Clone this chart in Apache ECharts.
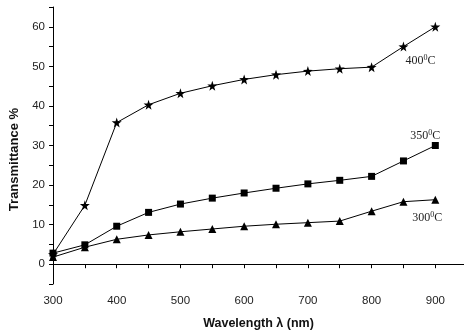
<!DOCTYPE html>
<html>
<head>
<meta charset="utf-8">
<script src="https://cdn.jsdelivr.net/npm/echarts@6/dist/echarts.min.js"></script>
<style>
  html, body { margin: 0; padding: 0; background: #fff; }
  #chart { width: 464px; height: 335px; }
</style>
</head>
<body>
<div id="chart"></div>
<script>
// Wavelength samples (nm)
var wavelengths = [300, 350, 400, 450, 500, 550, 600, 650, 700, 750, 800, 850, 900];

// Transmittance (%) of films annealed at each temperature
var t400 = [2.5, 14.9, 35.8, 40.3, 43.2, 45.1, 46.7, 47.9, 48.8, 49.4, 49.8, 55.0, 60.0];
var t350 = [2.8, 4.9, 9.6, 13.1, 15.2, 16.7, 18.0, 19.2, 20.3, 21.2, 22.2, 26.1, 30.0];
var t300 = [1.8, 4.3, 6.3, 7.4, 8.2, 8.9, 9.6, 10.1, 10.5, 10.9, 13.4, 15.8, 16.3];

// Curve labels: base temperature text
var seriesNames = ['400', '350', '300'];

function pairs(ys) {
  return wavelengths.map(function (x, i) { return [x, ys[i]]; });
}

function labelled(ys, idx, labelOpt) {
  var d = pairs(ys);
  d[idx] = { value: d[idx], label: labelOpt };
  return d;
}

function tempLabel(name, offset) {
  return {
    show: true,
    position: 'inside',
    offset: offset,
    formatter: name + '{sup|0}C',
    fontFamily: 'Liberation Serif',
    fontSize: 12,
    color: '#222',
    rich: {
      sup: { fontFamily: 'Liberation Serif', fontSize: 8, verticalAlign: 'bottom', padding: [0, 0, 6, 0], color: '#222' }
    }
  };
}

var lineStyle = { color: '#000', width: 1 };
var itemStyle = { color: '#000' };

var chart = echarts.init(document.getElementById('chart'), null, { renderer: 'canvas' });
chart.setOption({
  animation: false,
  backgroundColor: '#fff',
  grid: { left: 53, right: 0, top: 7, bottom: 48, containLabel: false },
  xAxis: {
    type: 'value',
    min: 300,
    max: 945,
    interval: 50,
    name: 'Wavelength \u03bb (nm)',
    nameLocation: 'middle',
    nameGap: 33,
    nameTextStyle: { fontFamily: 'Liberation Sans', fontWeight: 'bold', fontSize: 12.5, color: '#111' },
    axisLine: { lineStyle: { color: '#000', width: 1 } },
    axisTick: { show: true, inside: false, length: 4, lineStyle: { color: '#000' } },
    axisLabel: {
      showMaxLabel: false,
      margin: 11,
      fontFamily: 'Liberation Sans',
      fontSize: 11.5,
      color: '#222',
      formatter: function (v) { return v % 100 === 0 ? String(v) : ''; }
    },
    splitLine: { show: false }
  },
  yAxis: {
    type: 'value',
    min: -5,
    max: 65,
    interval: 5,
    name: 'Transmittance %',
    nameLocation: 'middle',
    nameGap: 30,
    nameTextStyle: { fontFamily: 'Liberation Sans', fontWeight: 'bold', fontSize: 13, color: '#111', padding: [0, 28, 0, 0] },
    axisLine: { show: true, lineStyle: { color: '#000', width: 1 } },
    axisTick: { show: true, inside: false, length: 4, lineStyle: { color: '#000' } },
    axisLabel: {
      margin: 8,
      fontFamily: 'Liberation Sans',
      fontSize: 11.5,
      color: '#222',
      formatter: function (v) { return v % 10 === 0 ? String(v) : ''; }
    },
    splitLine: { show: false }
  },
  series: [
    {
      name: seriesNames[0],
      type: 'line',
      data: labelled(t400, 11, tempLabel(seriesNames[0], [17, 14])),
      symbol: 'path://M50,0 L61.8,35.1 L100,36.3 L69.1,58.8 L79.4,95.1 L50,73.5 L20.6,95.1 L30.9,58.8 L0,36.3 L38.2,35.1 Z',
      symbolSize: 10,
      lineStyle: lineStyle,
      itemStyle: itemStyle
    },
    {
      name: seriesNames[1],
      type: 'line',
      data: labelled(t350, 12, tempLabel(seriesNames[1], [-10, -10])),
      symbol: 'rect',
      symbolSize: 7,
      lineStyle: lineStyle,
      itemStyle: itemStyle
    },
    {
      name: seriesNames[2],
      type: 'line',
      data: labelled(t300, 12, tempLabel(seriesNames[2], [-8, 18])),
      symbol: 'triangle',
      symbolSize: 8,
      lineStyle: lineStyle,
      itemStyle: itemStyle
    }
  ]
});
</script>
</body>
</html>
